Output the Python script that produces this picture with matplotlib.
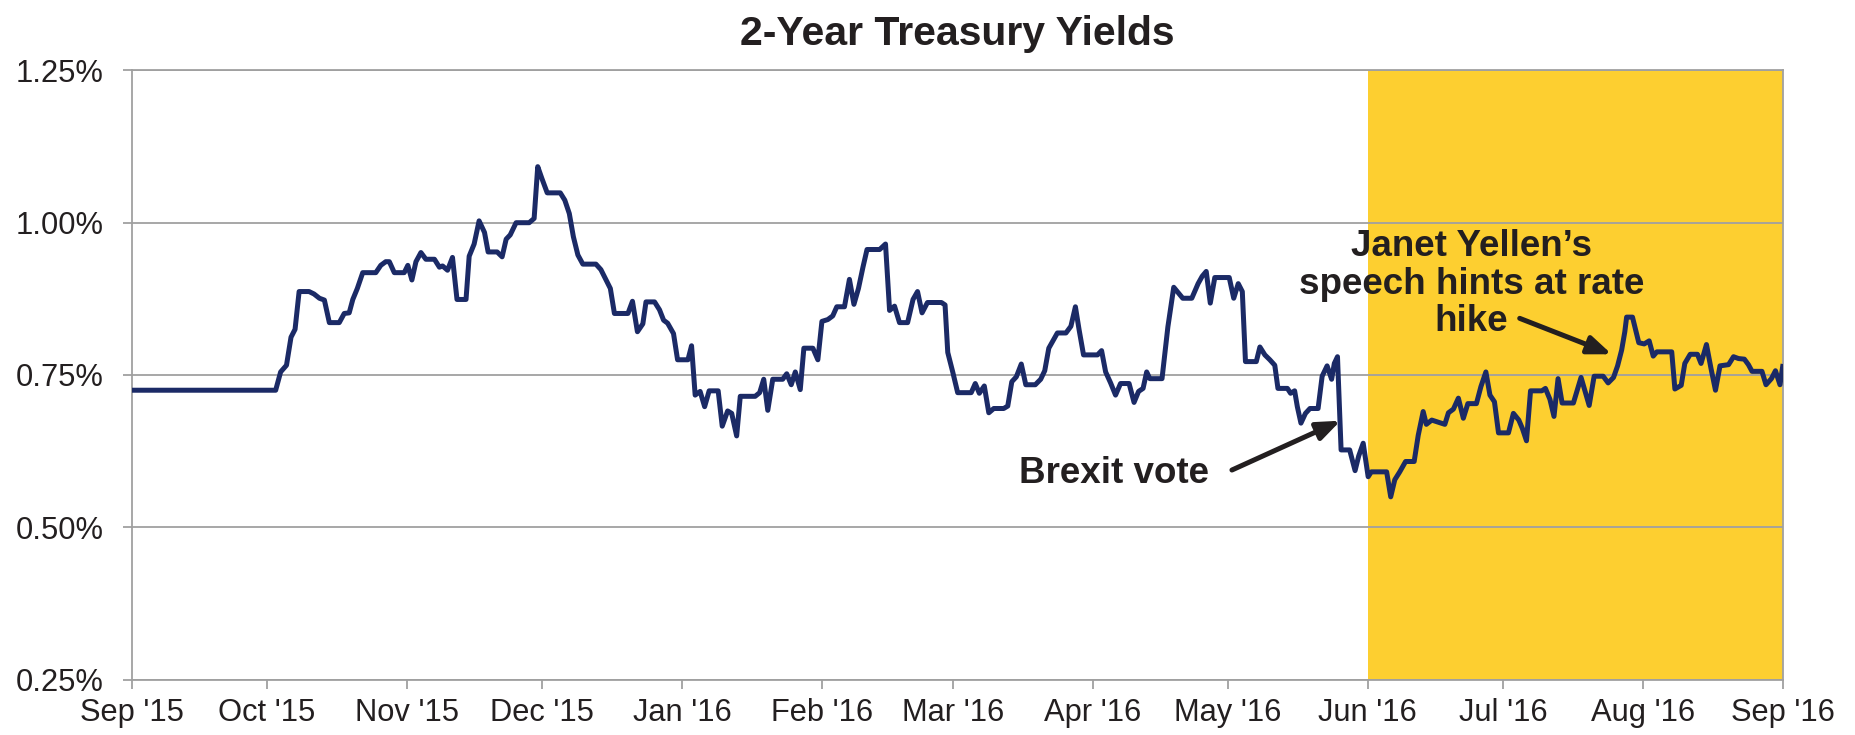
import matplotlib
matplotlib.use("Agg")
import matplotlib.pyplot as plt
import matplotlib.dates as mdates
import matplotlib.ticker as ticker
import numpy as np
import pandas as pd

plt.rcParams["font.family"] = ["Liberation Sans", "DejaVu Sans"]

# date range of the chart
start = pd.Timestamp("2015-09-01")
end = pd.Timestamp("2016-09-01")
shade_start = pd.Timestamp("2016-06-01")

# days since Sep 1 2015 and 2-year yield (%)
days = [0, 31.9, 33.0, 34.3, 35.3, 36.2, 37.1, 39.3, 40.4, 41.6, 42.7, 43.8, 46.0, 47.1, 48.2,
        49.0, 50.0, 51.2, 54.1, 55.2, 56.3, 57.1, 58.2, 60.4, 61.2, 62.1, 63.0, 64.1, 65.2, 67.1,
        68.2, 68.9, 70.0, 71.1, 72.1, 74.1, 74.8, 75.9, 77.0, 78.2, 79.0, 81.0, 82.1, 83.0, 83.9,
        85.2, 88.1, 89.2, 90.0, 90.9, 92.1, 95.0, 96.0, 97.0, 97.9, 98.9, 100.0, 102.9, 104.0,
        106.1, 107.0, 110.0, 111.0, 112.1, 113.3, 114.0, 115.9, 117.0, 117.9, 118.8, 120.1, 121.0,
        123.3, 124.1, 124.9, 126.0, 127.0, 128.0, 130.0, 130.9, 132.1, 133.0, 134.1, 134.9, 138.2,
        139.2, 140.1, 141.0, 142.1, 144.3, 145.2, 146.2, 147.1, 148.2, 149.0, 151.0, 152.1, 153.0,
        154.3, 155.4, 156.3, 158.0, 159.1, 160.1, 161.1, 162.1, 163.0, 165.8, 167.1, 168.0, 169.1,
        170.2, 172.0, 173.2, 174.2, 175.2, 176.4, 179.5, 180.3, 180.9, 182.0, 183.1, 186.1, 187.0,
        187.9, 189.0, 190.0, 191.1, 193.3, 194.2, 195.1, 196.1, 197.2, 198.2, 200.3, 201.5, 202.4,
        203.3, 205.2, 207.1, 208.2, 209.2, 210.0, 211.0, 214.1, 215.0, 215.9, 217.0, 218.1, 219.2,
        221.1, 222.2, 223.2, 224.2, 225.0, 225.7, 228.4, 229.7, 231.0, 233.0, 235.0, 236.4, 237.3,
        238.2, 239.1, 240.1, 243.3, 244.3, 245.3, 246.2, 246.9, 249.3, 250.1, 251.2, 252.3, 253.4,
        254.1, 256.2, 256.9, 257.8, 258.4, 259.2, 260.2, 261.2, 263.0, 263.9, 265.0, 266.0, 266.6,
        267.3, 268.1, 270.0, 271.2, 272.0, 273.0, 274.1, 274.8, 278.2, 279.1, 280.0, 281.1, 282.4,
        284.3, 285.2, 286.3, 287.0, 288.2, 291.1, 291.9, 293.0, 294.1, 295.2, 296.2, 298.1, 299.1,
        300.2, 301.1, 302.1, 303.0, 305.2, 306.3, 307.5, 308.3, 309.2, 310.1, 312.6, 313.4, 314.4,
        315.3, 316.2, 317.1, 319.6, 321.3, 323.1, 324.2, 326.2, 327.3, 328.5, 329.4, 330.3, 331.0,
        331.4, 332.7, 333.5, 334.1, 335.3, 336.4, 337.3, 338.1, 341.4, 342.1, 343.5, 344.3, 345.5,
        347.1, 347.9, 349.1, 350.1, 351.1, 352.1, 354.0, 355.1, 356.2, 357.5, 358.4, 359.2, 361.4,
        362.3, 363.5, 364.4, 365.4, 366.0]
yields = [0.725, 0.725, 0.755, 0.766, 0.812, 0.825, 0.887, 0.887, 0.883, 0.876, 0.873, 0.836, 0.836,
          0.851, 0.852, 0.874, 0.892, 0.918, 0.918, 0.930, 0.936, 0.936, 0.918, 0.918, 0.930, 0.906,
          0.936, 0.951, 0.940, 0.940, 0.927, 0.929, 0.922, 0.943, 0.874, 0.874, 0.945, 0.965, 1.003,
          0.984, 0.952, 0.952, 0.944, 0.973, 0.980, 1.000, 1.000, 1.007, 1.092, 1.073, 1.049, 1.049,
          1.037, 1.015, 0.977, 0.947, 0.932, 0.932, 0.923, 0.892, 0.851, 0.851, 0.871, 0.821, 0.834,
          0.870, 0.870, 0.857, 0.840, 0.835, 0.818, 0.775, 0.775, 0.798, 0.717, 0.723, 0.698, 0.724,
          0.724, 0.666, 0.691, 0.687, 0.650, 0.715, 0.715, 0.721, 0.743, 0.692, 0.743, 0.743, 0.752,
          0.734, 0.755, 0.726, 0.794, 0.794, 0.775, 0.838, 0.841, 0.847, 0.862, 0.862, 0.907, 0.866,
          0.892, 0.927, 0.956, 0.956, 0.965, 0.856, 0.863, 0.836, 0.836, 0.874, 0.887, 0.852, 0.869,
          0.869, 0.865, 0.787, 0.755, 0.721, 0.721, 0.736, 0.720, 0.732, 0.688, 0.695, 0.695, 0.699,
          0.739, 0.747, 0.768, 0.734, 0.734, 0.743, 0.757, 0.794, 0.819, 0.819, 0.830, 0.862, 0.825,
          0.783, 0.783, 0.790, 0.755, 0.737, 0.717, 0.736, 0.736, 0.705, 0.723, 0.728, 0.755, 0.744,
          0.744, 0.829, 0.894, 0.876, 0.876, 0.900, 0.912, 0.920, 0.868, 0.910, 0.910, 0.876, 0.900,
          0.887, 0.772, 0.772, 0.796, 0.783, 0.775, 0.766, 0.728, 0.728, 0.720, 0.724, 0.698, 0.671,
          0.687, 0.695, 0.695, 0.748, 0.765, 0.743, 0.769, 0.780, 0.627, 0.627, 0.593, 0.617, 0.638,
          0.583, 0.591, 0.591, 0.550, 0.578, 0.591, 0.608, 0.608, 0.651, 0.690, 0.669, 0.676, 0.669,
          0.688, 0.694, 0.712, 0.679, 0.703, 0.703, 0.731, 0.755, 0.717, 0.706, 0.655, 0.655, 0.687,
          0.676, 0.662, 0.642, 0.724, 0.724, 0.728, 0.710, 0.682, 0.744, 0.704, 0.704, 0.746, 0.700,
          0.748, 0.748, 0.737, 0.746, 0.765, 0.791, 0.821, 0.845, 0.845, 0.821, 0.803, 0.801, 0.806,
          0.781, 0.788, 0.788, 0.727, 0.733, 0.769, 0.784, 0.784, 0.769, 0.800, 0.761, 0.725, 0.765,
          0.767, 0.780, 0.777, 0.776, 0.767, 0.756, 0.756, 0.734, 0.744, 0.757, 0.734, 0.764]

yticks = [0.25, 0.50, 0.75, 1.00, 1.25]

# annotations: (label, text pos [day, yield], arrow tail, arrow head)
brexit_label = "Brexit vote"
brexit_text = (217.7, 0.573)
brexit_arrow = ((243.9, 0.594), (268.0, 0.675))
yellen_label = "Janet Yellen\u2019s\nspeech hints at rate\nhike"
yellen_text = (297.0, 0.899)
yellen_arrow = ((307.7, 0.843), (328.1, 0.784))

navy = "#1B2A66"
yellow = "#FDCF30"
grey = "#A0A0A0"
ink = "#231F20"

t0 = mdates.date2num(start)
x = t0 + np.array(days)

fig = plt.figure(figsize=(18.56, 7.35), dpi=100)
ax = fig.add_axes([0.0710, 0.0754, 0.8895, 0.8288])

ax.axvspan(mdates.date2num(shade_start), mdates.date2num(end), color=yellow, lw=0, zorder=0.2)
ax.plot(x, yields, color=navy, lw=3.6, solid_joinstyle="round", zorder=3)

ax.set_xlim(mdates.date2num(start), mdates.date2num(end))
ax.set_ylim(0.25, 1.25)
ax.set_yticks(yticks)
ax.yaxis.set_major_formatter(ticker.FuncFormatter(lambda v, _: f"{v:.2f}%"))
ax.xaxis.set_major_locator(mdates.MonthLocator())
ax.xaxis.set_major_formatter(mdates.DateFormatter("%b '%y"))

ax.set_axisbelow(True)
ax.grid(axis="y", color=grey, lw=1.3)
for s in ax.spines.values():
    s.set_color(grey)
    s.set_linewidth(1.3)
ax.tick_params(axis="both", colors=grey, labelcolor=ink, labelsize=22.2, length=6.5, width=1.3)
ax.tick_params(axis="x", pad=7)
ax.tick_params(axis="y", pad=14)

ax.set_title("2-Year Treasury Yields", fontsize=29.5, fontweight="bold", color=ink, pad=18)

ax.text(t0 + brexit_text[0], brexit_text[1], brexit_label, fontsize=26.5, fontweight="bold",
        color=ink, ha="center", va="baseline", zorder=4)
ax.text(t0 + yellen_text[0], yellen_text[1], yellen_label, fontsize=26.5, fontweight="bold",
        color=ink, ha="center", va="center", multialignment="center", linespacing=1.1, zorder=4)

for tail, head in [brexit_arrow, yellen_arrow]:
    ax.annotate("", xy=(t0 + head[0], head[1]), xytext=(t0 + tail[0], tail[1]),
                arrowprops=dict(arrowstyle="-|>,head_length=1.4,head_width=0.55", color=ink,
                                lw=3.6, mutation_scale=10, shrinkA=0, shrinkB=0),
                zorder=4)

fig.savefig("out.png", dpi=100)
